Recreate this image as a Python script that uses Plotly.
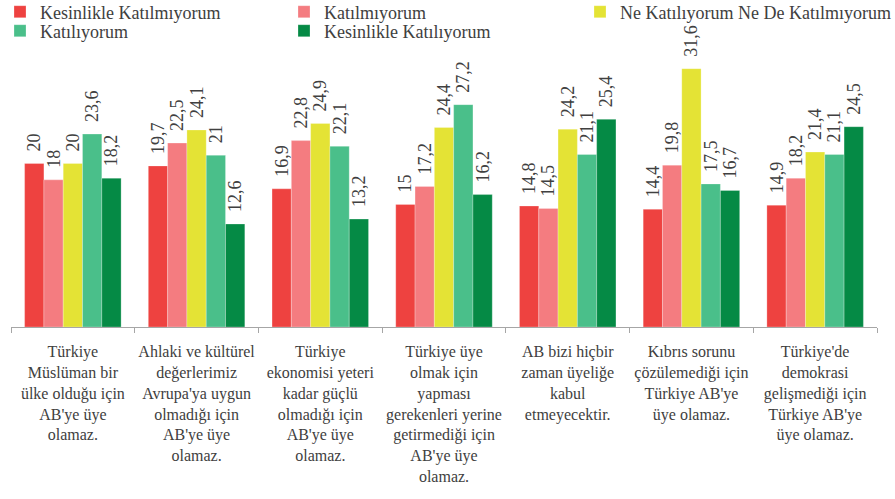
import plotly.graph_objects as go

categories = [
    "Türkiye<br>Müslüman bir<br>ülke olduğu için<br>AB'ye üye<br>olamaz.",
    "Ahlaki ve kültürel<br>değerlerimiz<br>Avrupa'ya uygun<br>olmadığı için<br>AB'ye üye<br>olamaz.",
    "Türkiye<br>ekonomisi yeteri<br>kadar güçlü<br>olmadığı için<br>AB'ye üye<br>olamaz.",
    "Türkiye üye<br>olmak için<br>yapması<br>gerekenleri yerine<br>getirmediği için<br>AB'ye üye<br>olamaz.",
    "AB bizi hiçbir<br>zaman üyeliğe<br>kabul<br>etmeyecektir.",
    "Kıbrıs sorunu<br>çözülemediği için<br>Türkiye AB'ye<br>üye olamaz.",
    "Türkiye'de<br>demokrasi<br>gelişmediği için<br>Türkiye AB'ye<br>üye olamaz.",
]

series_names = [
    "Kesinlikle Katılmıyorum",
    "Katılmıyorum",
    "Ne Katılıyorum Ne De Katılmıyorum",
    "Katılıyorum",
    "Kesinlikle Katılıyorum",
]

kesinlikle_katilmiyorum = [20, 19.7, 16.9, 15, 14.8, 14.4, 14.9]
katilmiyorum = [18, 22.5, 22.8, 17.2, 14.5, 19.8, 18.2]
ne_ne = [20, 24.1, 24.9, 24.4, 24.2, 31.6, 21.4]
katiliyorum = [23.6, 21, 22.1, 27.2, 21.1, 17.5, 21.1]
kesinlikle_katiliyorum = [18.2, 12.6, 13.2, 16.2, 25.4, 16.7, 24.5]

values = [kesinlikle_katilmiyorum, katilmiyorum, ne_ne, katiliyorum, kesinlikle_katiliyorum]
colors = ["#EE4240", "#F47C80", "#E4E335", "#4ABF8A", "#058A45"]
legend_ids = ["legend2", "legend3", "legend4", "legend5", "legend6"]
# legend box left edge (px) and row centre (px from top)
legend_pos = [(0, 12), (284, 12), (580, 12), (0, 31), (284, 31)]

FONT = "Liberation Serif"
TXT = "#404040"

W, H = 895, 499
ML, MR, MT, MB = 11, 18, 0, 172

def fmt(v):
    s = ("%g" % v).replace(".", ",")
    return "\u00a0\u00a0" + s

fig = go.Figure()
for name, vals, col, lg in zip(series_names, values, colors, legend_ids):
    fig.add_trace(go.Bar(
        name=name, x=categories, y=vals, legend=lg,
        marker=dict(color=col, line=dict(color="rgba(255,255,255,0.5)", width=0.5)),
        text=[fmt(v) for v in vals],
        textposition="outside", textangle=-90,
        textfont=dict(family=FONT, size=18, color=TXT),
        constraintext="none", cliponaxis=False,
    ))

legends = {}
for lg, (lx, ty) in zip(legend_ids, legend_pos):
    legends[lg] = dict(
        orientation="v", xanchor="left", yanchor="middle",
        xref="container", yref="container",
        x=lx / W, y=1 - ty / H,
        font=dict(family=FONT, size=18, color=TXT),
        itemwidth=30, bgcolor="rgba(0,0,0,0)", borderwidth=0,
    )

fig.update_layout(
    width=W, height=H,
    margin=dict(l=ML, r=MR, t=MT, b=MB, autoexpand=False),
    paper_bgcolor="white", plot_bgcolor="white",
    barmode="group", bargap=0.22, bargroupgap=0,
    font=dict(family=FONT, color=TXT),
    xaxis=dict(
        showline=True, linecolor="#A6A6A6", linewidth=1,
        ticks="outside", tickson="boundaries", ticklen=5, tickcolor="#A6A6A6",
        tickfont=dict(family=FONT, size=16, color=TXT),
        ticklabelstandoff=10,
        tickangle=0, showgrid=False, automargin=False,
    ),
    yaxis=dict(range=[0, 40], visible=False, showgrid=False, fixedrange=True),
    **legends,
)

fig.write_html("out.html", config={"displayModeBar": False},
               post_script="document.body.style.margin='0px';")
